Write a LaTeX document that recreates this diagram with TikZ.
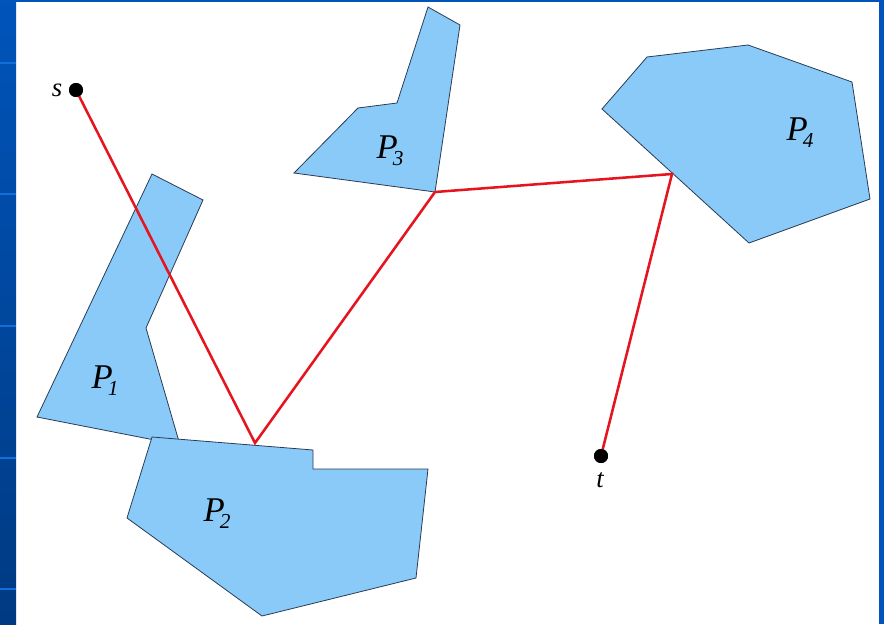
\documentclass[tikz,border=0pt]{standalone}
\usepackage{fontspec}
\setmainfont{Liberation Serif}
\definecolor{polyfill}{RGB}{138,202,248}
\definecolor{polyedge}{RGB}{40,60,85}
\definecolor{barTop}{RGB}{0,84,186}
\definecolor{barBot}{RGB}{0,58,130}
\definecolor{stripe}{RGB}{20,110,215}
\definecolor{pathred}{RGB}{230,20,30}
\tikzset{
  poly/.style={fill=polyfill, draw=polyedge, line width=0.6pt, line join=miter},
  route/.style={draw=pathred, line width=1.9pt, line join=miter},
  terminal/.style={circle, fill=black, inner sep=0pt, minimum size=10.5pt},
  ptlabel/.style={font=\fontsize{20}{20}\selectfont\itshape, inner sep=0pt},
  plabel/.style={font=\fontsize{26}{26}\selectfont\itshape, inner sep=0pt},
}
\newcommand{\polylab}[1]{P\kern-0.14em\raisebox{-0.45ex}{\fontsize{16}{16}\selectfont #1}}
\begin{document}
\begin{tikzpicture}[x=0.75pt,y=-0.75pt]
\useasboundingbox (0,0) rectangle (884,624);
\fill[white] (0,0) rectangle (884,624);
% slide frame
\shade[top color=barTop, bottom color=barBot] (0,0) rectangle (16,624);
\fill[barTop] (0,0) rectangle (884,2);
\fill[barTop] (879,0) rectangle (884,624);
\foreach \yy in {62,193,325,457,588}
  \fill[stripe] (0,\yy) rectangle (16,\yy+2);
% obstacles
\draw[poly] (152,174) -- (203,200) -- (146,328) -- (180,445) -- (37,417) -- cycle;
\draw[poly] (152,437) -- (313,450) -- (313,469) -- (428,469) -- (416,578) -- (262,616) -- (127,518) -- cycle;
\draw[poly] (428,7) -- (460,25) -- (435,192) -- (294,173) -- (358,108) -- (397,103) -- cycle;
\draw[poly] (647,57) -- (748,45) -- (852,82) -- (870,199) -- (749,243) -- (602,109) -- cycle;
% labels
\node[plabel] (l1) at (105,381) {\polylab{1}};
\node[plabel] (l2) at (217,514) {\polylab{2}};
\node[plabel] (l3) at (390,151) {\polylab{3}};
\node[plabel] (l4) at (800,133) {\polylab{4}};
% path vertices
\coordinate (v1) at (255,443);
\coordinate (v2) at (435,192);
\coordinate (v3) at (672,174);
\node[terminal] (s) at (76,90) {};
\node[terminal] (t) at (601,456) {};
\draw[route] (s.center) -- (v1) -- (v2) -- (v3) -- (t.center);
\node[terminal] at (s) {};
\node[terminal] at (t) {};
\node[ptlabel] (sl) at (57,90) {s};
\node[ptlabel] (tl) at (600,480) {t};
\end{tikzpicture}
\end{document}
